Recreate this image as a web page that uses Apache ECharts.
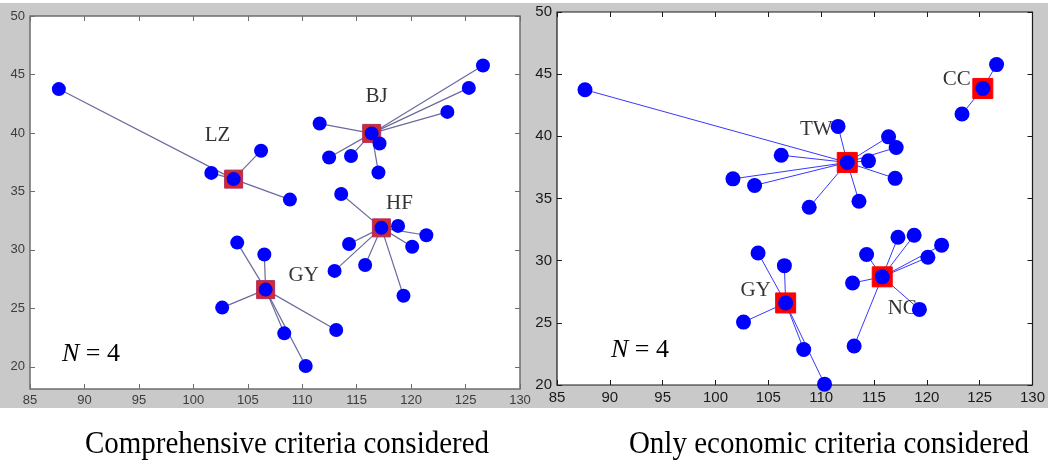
<!DOCTYPE html>
<html><head><meta charset="utf-8">
<script src="https://cdn.jsdelivr.net/npm/echarts@6/dist/echarts.min.js"></script>
<style>html,body{margin:0;padding:0;background:#fff}#c{width:1048px;height:468px}</style>
</head><body><div id="c"></div>
<script>
// City coordinates (longitude, latitude)
const cityLon = [87.65, 103.70, 101.65, 106.22, 108.87, 116.38, 126.60, 125.30, 123.33, 111.60,
                 112.47, 114.48, 117.10, 117.00, 117.27, 113.58, 118.80, 121.40, 120.10, 114.30,
                 112.97, 115.78, 119.30, 106.64, 104.03, 106.52, 102.65, 108.35, 110.32, 113.12];
const cityLat = [43.75, 36.05, 36.58, 38.48, 34.30, 39.96, 45.77, 43.85, 41.80, 40.80,
                 37.90, 38.03, 39.10, 36.62, 31.88, 34.78, 32.05, 31.25, 30.27, 30.50,
                 28.20, 28.70, 26.08, 26.60, 30.62, 29.60, 25.06, 22.86, 20.07, 23.14];
// Hub assigned to each city
const assignComprehensive = [1,1,1,1,1,5,5,5,5,5, 5,5,5,5,14,14,14,14,14,14, 14,14,14,23,23,23,23,23,23,23];
const assignEconomic      = [10,10,10,10,10,10,7,7,7,10, 10,10,10,10,21,10,21,21,21,21, 21,21,21,23,23,23,23,23,23,21];
const hubsComprehensive = [1, 5, 14, 23];
const hubNamesComprehensive = ['LZ', 'BJ', 'HF', 'GY'];
const hubsEconomic = [10, 7, 23, 21];
const hubNamesEconomic = ['TW', 'CC', 'GY', 'NC'];
const xTicks = [85, 90, 95, 100, 105, 110, 115, 120, 125, 130];
const yTicks = [20, 25, 30, 35, 40, 45, 50];
const captions = ['Comprehensive criteria considered', 'Only economic criteria considered'];

// label offsets (pixels, styling)
const labelOffsetsL = [[-16,-44],[5,-37],[18,-24],[38,-14]];
const labelOffsetsR = [[-31,-33],[-26,-9],[-30,-12],[20,32]];

const chart = echarts.init(document.getElementById('c'));
const serif = '"Liberation Serif", "Times New Roman", serif';

function axesFor(idx, color, labelColor, yMin, fs) {
  const xs = [{
    gridIndex: idx, type: 'value', min: 85, max: 130, position: 'bottom',
    axisLine: {show: false}, splitLine: {show: false},
    axisTick: {show: true, inside: true, length: 5, lineStyle: {color: color}, customValues: xTicks},
    axisLabel: {show: true, color: labelColor, fontSize: fs, fontFamily: 'Liberation Sans, Arial', margin: 5, customValues: xTicks}
  }, {
    gridIndex: idx, type: 'value', min: 85, max: 130, position: 'top',
    axisLine: {show: false}, splitLine: {show: false},
    axisTick: {show: true, inside: true, length: 5, lineStyle: {color: color}, customValues: xTicks},
    axisLabel: {show: false}
  }];
  const ys = [{
    gridIndex: idx, type: 'value', min: yMin, max: 50, position: 'left',
    axisLine: {show: false}, splitLine: {show: false},
    axisTick: {show: true, inside: true, length: 5, lineStyle: {color: color}, customValues: yTicks},
    axisLabel: {show: true, color: labelColor, fontSize: fs, fontFamily: 'Liberation Sans, Arial', margin: 5, customValues: yTicks}
  }, {
    gridIndex: idx, type: 'value', min: yMin, max: 50, position: 'right',
    axisLine: {show: false}, splitLine: {show: false},
    axisTick: {show: true, inside: true, length: 5, lineStyle: {color: color}, customValues: yTicks},
    axisLabel: {show: false}
  }];
  return {xs, ys};
}

function seriesFor(axIdx, assign, hubs, names, offsets, lineColor, lineWidth, sqColor, sqBorder, sqSize, dotSize) {
  const lineData = [];
  for (let i = 0; i < cityLon.length; i++) {
    const h = assign[i];
    if (h === i) continue;
    lineData.push({coords: [[cityLon[h], cityLat[h]], [cityLon[i], cityLat[i]]]});
  }
  const hubData = hubs.map(h => [cityLon[h], cityLat[h]]);
  const labelData = hubs.map((h, k) => ({
    value: [cityLon[h], cityLat[h]],
    label: {show: true, formatter: names[k], offset: offsets[k]}
  }));
  const cityData = cityLon.map((x, i) => [x, cityLat[i]]);
  return [
    {type: 'lines', coordinateSystem: 'cartesian2d', xAxisIndex: axIdx, yAxisIndex: axIdx,
     data: lineData, silent: true, z: 1,
     lineStyle: {color: lineColor, width: lineWidth, opacity: 1, curveness: 0}},
    {type: 'scatter', xAxisIndex: axIdx, yAxisIndex: axIdx, data: hubData, symbol: 'rect', symbolSize: sqSize,
     itemStyle: {color: sqColor, borderColor: sqBorder, borderWidth: 1, opacity: 1}, z: 2, silent: true},
    {type: 'scatter', xAxisIndex: axIdx, yAxisIndex: axIdx, data: labelData, symbolSize: 0, z: 3, silent: true,
     label: {show: true, position: 'inside', color: '#000', fontSize: 21, fontFamily: serif}},
    {type: 'scatter', xAxisIndex: axIdx, yAxisIndex: axIdx, data: cityData, symbol: 'circle', symbolSize: dotSize,
     itemStyle: {color: '#0000ff', opacity: 1}, z: 4, silent: true}
  ];
}

const aL = axesFor(0, '#6e6e6e', '#3c3c3c', 18.1, 13);
const aR = axesFor(1, '#1a1a1a', '#1a1a1a', 20, 15);

const option = {
  backgroundColor: '#ffffff',
  animation: false,
  graphic: [
    {type: 'rect', shape: {x: 0, y: 3, width: 1048, height: 405}, style: {fill: '#c9c9c9'}, z: -10, silent: true},
    {type: 'text', x: 91, y: 354, z: 10, style: {text: '{i|N} = 4', font: '26px ' + serif, fill: '#000', textAlign: 'center', textVerticalAlign: 'middle',
      rich: {i: {fontStyle: 'italic', fontSize: 26, fontFamily: serif}}}},
    {type: 'text', x: 640, y: 350, z: 10, style: {text: '{i|N} = 4', font: '26px ' + serif, fill: '#000', textAlign: 'center', textVerticalAlign: 'middle',
      rich: {i: {fontStyle: 'italic', fontSize: 26, fontFamily: serif}}}},
    {type: 'text', x: 287, y: 445, scaleY: 1.1, style: {text: captions[0], font: '29px ' + serif, fill: '#000', textAlign: 'center', textVerticalAlign: 'middle'}},
    {type: 'text', x: 829, y: 445, scaleY: 1.1, style: {text: captions[1], font: '29px ' + serif, fill: '#000', textAlign: 'center', textVerticalAlign: 'middle'}}
  ],
  grid: [
    {left: 30, top: 16, width: 490, height: 373, show: true, backgroundColor: '#fff', borderColor: '#6e6e6e', borderWidth: 1.5, containLabel: false},
    {left: 557, top: 12, width: 476, height: 373, show: true, backgroundColor: '#fff', borderColor: '#1a1a1a', borderWidth: 1.2, containLabel: false}
  ],
  xAxis: [aL.xs[0], aL.xs[1], aR.xs[0], aR.xs[1]],
  yAxis: [aL.ys[0], aL.ys[1], aR.ys[0], aR.ys[1]],
  series: []
};
const sL = seriesFor(0, assignComprehensive, hubsComprehensive, hubNamesComprehensive, labelOffsetsL, '#6a6a9e', 1.2, '#d42a2a', '#b03060', 18, 14);
const sR = seriesFor(2, assignEconomic, hubsEconomic, hubNamesEconomic, labelOffsetsR, '#3838ff', 1, '#ff0000', '#ff0000', 20, 15);
option.series = sL.concat(sR);
chart.setOption(option);
</script></body></html>
